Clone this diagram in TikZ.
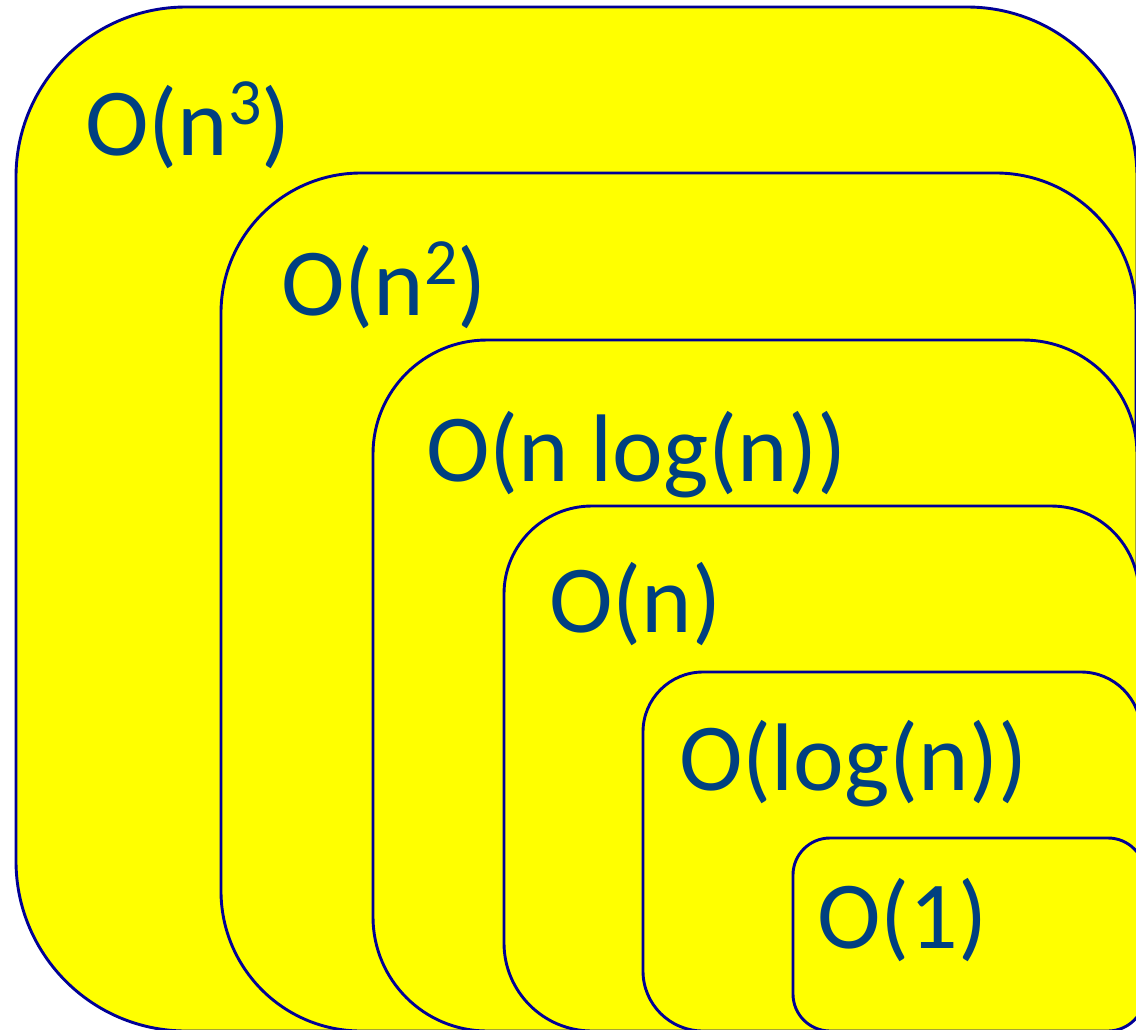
\documentclass[tikz,border=0pt]{standalone}
\usepackage{fontspec}
\setmainfont{Carlito}
\definecolor{boxfill}{RGB}{255,255,0}
\definecolor{boxline}{RGB}{0,0,150}
\definecolor{labelblue}{RGB}{0,64,128}
\newcommand{\supnum}[1]{\raisebox{31pt}{\fontsize{66}{70}\selectfont #1}}
\begin{document}
\begin{tikzpicture}[x=1pt,y=-1pt,
  setbox/.style={fill=boxfill,draw=boxline,line width=2.9pt},
  biglabel/.style={inner sep=0pt,anchor=base west,text=labelblue,font=\fontsize{96}{100}\selectfont}]
\useasboundingbox (0,0) rectangle (1136,1029);
\clip (0,0) rectangle (1136,1029);
\draw[setbox,rounded corners=170pt] (16,7) rectangle (1137,1031);
\draw[setbox,rounded corners=140pt] (221,173) rectangle (1136,1031);
\draw[setbox,rounded corners=114pt] (373,340) rectangle (1137,1031);
\draw[setbox,rounded corners=88pt] (504,506) rectangle (1139,1031);
\draw[setbox,rounded corners=60pt] (643,672) rectangle (1141,1031);
\draw[setbox,rounded corners=37pt] (793,838) rectangle (1145,1031);
\node[biglabel] (l3) at (85,155) {O(n\supnum{3})};
\node[biglabel] (l2) at (281,315) {O(n\supnum{2})};
\node[biglabel] (lnl) at (426,481) {O(n log(n))};
\node[biglabel] (ln) at (549,632) {O(n)};
\node[biglabel] (ll) at (679,790) {O(log(n))};
\node[biglabel] (l1) at (817,948) {O(1)};
\end{tikzpicture}
\end{document}
